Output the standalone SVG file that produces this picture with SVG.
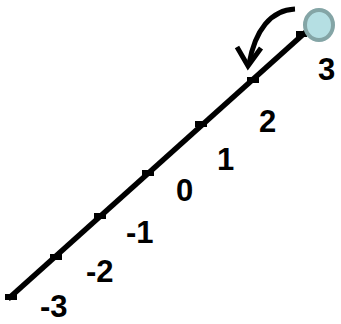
<svg xmlns="http://www.w3.org/2000/svg" width="341" height="324" viewBox="0 0 341 324">
<style>
.lbl{font-family:"Liberation Sans",Arial,sans-serif;font-weight:bold;font-size:31px;fill:#000}
.tick{fill:#000}
</style>
<rect width="341" height="324" fill="#fff"/>
<g id="connectors">
<line x1="8" y1="299" x2="308" y2="30" stroke="#000" stroke-width="5.5"/>
<path d="M295,9 C271,10 255,30 249,64" fill="none" stroke="#000" stroke-width="5"/>
<polyline points="237,47 248,66 261,48" fill="none" stroke="#000" stroke-width="5"/>
</g>
<g id="ticks">
<rect class="tick" x="5" y="294" width="12" height="6"/>
<rect class="tick" x="50" y="254" width="12" height="6"/>
<rect class="tick" x="94" y="213" width="12" height="6"/>
<rect class="tick" x="142" y="170" width="12" height="6"/>
<rect class="tick" x="195" y="121" width="12" height="6"/>
<rect class="tick" x="247" y="77" width="12" height="6"/>
<rect class="tick" x="296" y="31" width="11" height="6"/>
</g>
<g id="point">
<ellipse cx="319" cy="25" rx="14" ry="15" fill="#b5dfe3" stroke="#84a5a6" stroke-width="4"/>
</g>
<g id="labels">
<text class="lbl" x="40" y="317">-3</text>
<text class="lbl" x="86" y="282">-2</text>
<text class="lbl" x="126" y="243">-1</text>
<text class="lbl" x="176" y="201">0</text>
<text class="lbl" x="217" y="170">1</text>
<text class="lbl" x="259" y="132">2</text>
<text class="lbl" x="318" y="80">3</text>
</g>
</svg>
